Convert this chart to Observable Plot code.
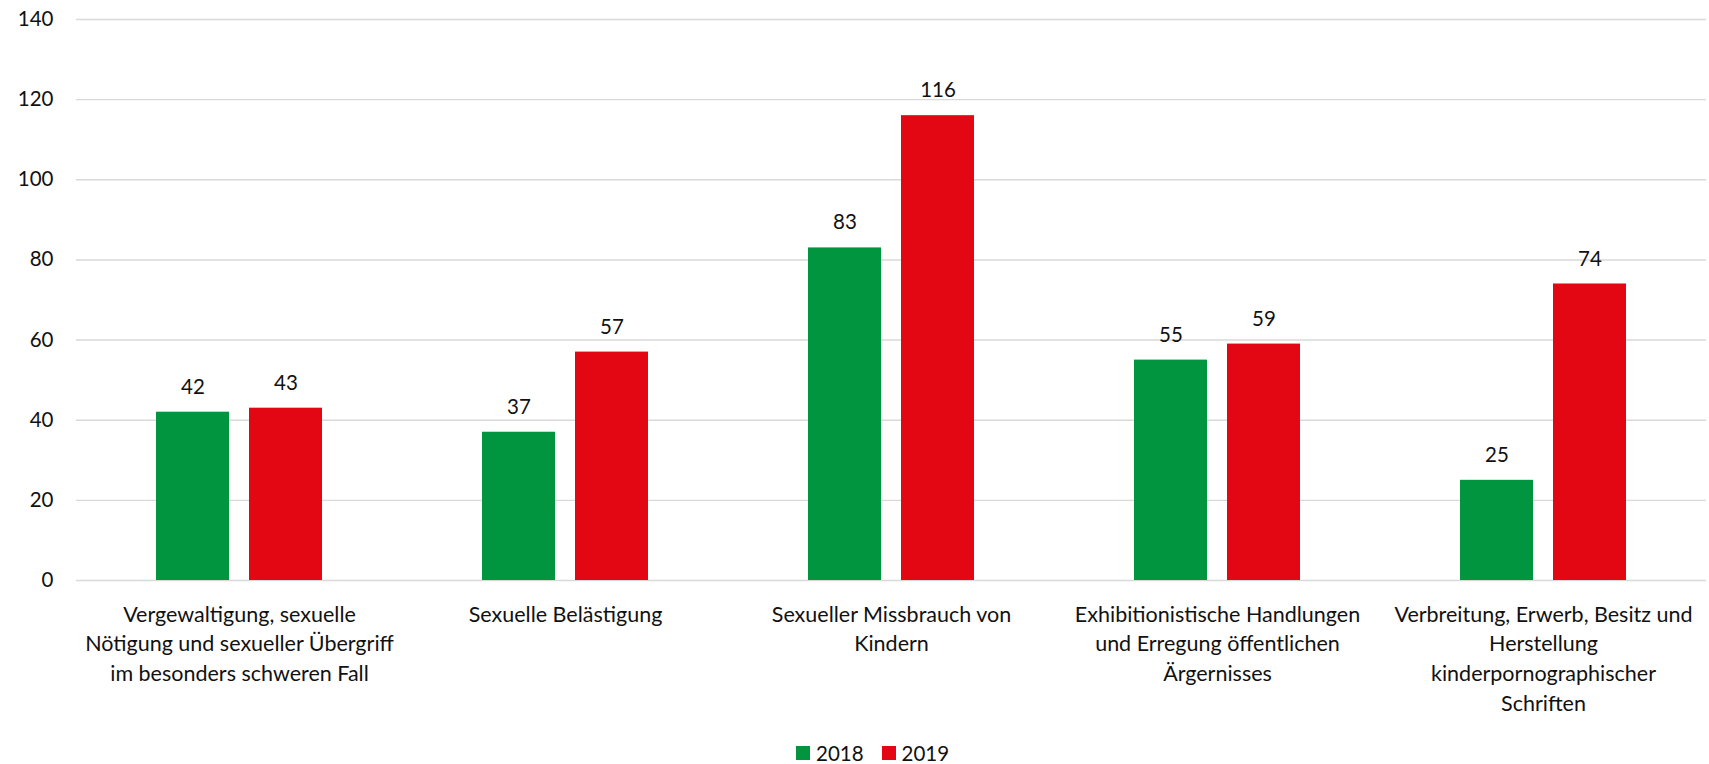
<!DOCTYPE html>
<html>
<head>
<meta charset="utf-8">
<script src="https://cdn.jsdelivr.net/npm/d3@7"></script>
<script src="https://cdn.jsdelivr.net/npm/@observablehq/plot@0.6"></script>
<style>
  html, body { margin: 0; padding: 0; background: #fff; }
  body { font-family: Lato, "Open Sans", sans-serif; width: 1709px; height: 764px; position: relative; overflow: hidden; }
  #chart { position: absolute; left: 0; top: 0; }
  #legend { position: absolute; left: 796px; top: 741px; }
  div .lg-swatch { margin-right: 18px !important; }
  div .lg-swatch > svg { margin-right: 6px !important; }
  div .lg-swatches { margin: 0 !important; min-height: 0 !important; }
</style>
</head>
<body>
<div id="chart"></div>
<div id="legend"></div>
<script>
const categories = [
  "Vergewaltigung, sexuelle\nNötigung und sexueller Übergriff\nim besonders schweren Fall",
  "Sexuelle Belästigung",
  "Sexueller Missbrauch von\nKindern",
  "Exhibitionistische Handlungen\nund Erregung öffentlichen\nÄrgernisses",
  "Verbreitung, Erwerb, Besitz und\nHerstellung\nkinderpornographischer\nSchriften"
];
const years = ["2018", "2019"];
const values2018 = [42, 37, 83, 55, 25];
const values2019 = [43, 57, 116, 59, 74];
const yTicks = [0, 20, 40, 60, 80, 100, 120, 140];
const colors = ["#019540", "#e30613"];

const data = [];
categories.forEach((c, i) => {
  data.push({category: c, year: years[0], value: values2018[i]});
  data.push({category: c, year: years[1], value: values2019[i]});
});

const chart = Plot.plot({
  width: 1709,
  height: 740,
  marginTop: 19,
  marginBottom: 160,
  marginLeft: 76,
  marginRight: 3,
  style: {fontFamily: "Lato, 'Open Sans', sans-serif", fontSize: "20px", color: "#111", background: "#fff"},
  fx: {domain: categories, padding: 0, label: null},
  x: {domain: years, paddingInner: 0.215, paddingOuter: 0.86, axis: null},
  y: {domain: [0, 140], label: null},
  color: {domain: years, range: colors},
  marks: [
    Plot.gridY(yTicks, {stroke: "#d9d9d9", strokeOpacity: 1, strokeWidth: 1.4}),
    Plot.barY(data, {fx: "category", x: "year", y: "value", fill: "year"}),
    Plot.text(data, {fx: "category", x: "year", y: "value", text: d => String(d.value), dy: -25, lineAnchor: "middle", fill: "#111", fontSize: 20.5}),
    Plot.axisY(yTicks, {tickSize: 0, tickPadding: 23, label: null, fontSize: 20.5, fill: "#111"}),
    Plot.axisFx({anchor: "bottom", tickSize: 0, tickPadding: 20, label: null, lineHeight: 1.38, fontSize: 21.5, fill: "#111", textOverflow: null, lineWidth: Infinity})
  ]
});
document.getElementById("chart").appendChild(chart);

const legend = Plot.legend({
  color: {domain: years, range: colors},
  swatchSize: 14,
  className: "lg",
  style: {fontFamily: "Lato, 'Open Sans', sans-serif", fontSize: "20.5px", color: "#111"}
});
document.getElementById("legend").appendChild(legend);
</script>
</body>
</html>
